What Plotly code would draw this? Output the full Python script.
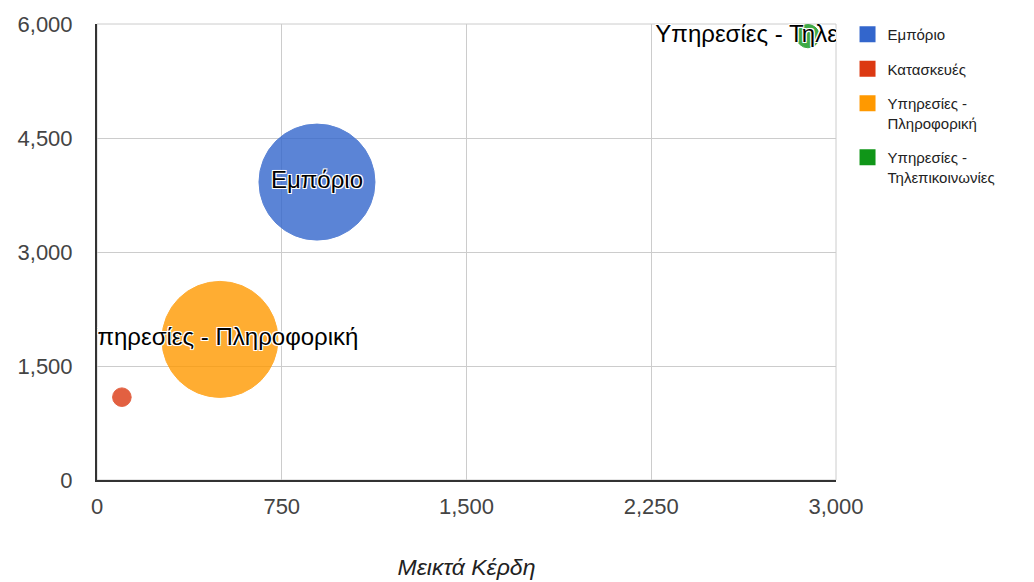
import plotly.graph_objects as go

names = ["Εμπόριο", "Κατασκευές", "Υπηρεσίες - Πληροφορική", "Υπηρεσίες - Τηλεπικοινωνίες"]
bubble_labels = ["Εμπόριο", "", "Υπηρεσίες - Πληροφορική", "Υπηρεσίες - Τηλεπικοινωνίες"]
legend_names = ["Εμπόριο", "Κατασκευές", "Υπηρεσίες -<br>Πληροφορική", "Υπηρεσίες -<br>Τηλεπικοινωνίες"]
gross_profit = [893, 101, 499, 2886]
y_values = [3920, 1090, 1850, 5840]
bubble_size = [100, 16, 100, 20]
colors = ["#3366CC", "#DC3912", "#FF9900", "#109618"]

x_ticks = [0, 750, 1500, 2250, 3000]
y_ticks = [0, 1500, 3000, 4500, 6000]

FONT = "Liberation Sans, Arial, sans-serif"
halo = "-1px -1px 0 #fff, 1px -1px 0 #fff, -1px 1px 0 #fff, 1px 1px 0 #fff, 0 0 2px #fff"

fig = go.Figure()
for i in range(len(names)):
    fig.add_trace(go.Scatter(
        x=[gross_profit[i]], y=[y_values[i]],
        mode="markers+text",
        text=[bubble_labels[i]],
        textposition="middle center",
        textfont=dict(family=FONT, size=24, color="#000", shadow=halo),
        marker=dict(size=[bubble_size[i]], sizemode="diameter", sizeref=100 / 116,
                    color=colors[i], opacity=0.8,
                    line=dict(color=colors[i], width=1)),
        showlegend=False, hoverinfo="skip", cliponaxis=True,
    ))

for i in range(len(names)):
    fig.add_trace(go.Scatter(
        x=[None], y=[None], mode="markers", name=legend_names[i],
        legendgroup=f"g{i}",
        marker=dict(symbol="square", size=16, color=colors[i]),
        showlegend=True,
    ))

fig.update_layout(
    width=1034, height=582,
    margin=dict(l=89, r=206, t=16, b=110, autoexpand=False),
    paper_bgcolor="white", plot_bgcolor="white",
    font=dict(family=FONT, color="#444"),
    legend=dict(x=1.0156, y=1.013, xanchor="left", yanchor="top",
                font=dict(size=15, color="#222"), valign="top",
                itemsizing="trace", tracegroupgap=12, bgcolor="rgba(0,0,0,0)"),
    xaxis=dict(range=[0, 3000], tickvals=x_ticks, tickformat=",",
               showgrid=True, gridcolor="#cccccc", gridwidth=1,
               zeroline=False, showline=True, linecolor="#333", linewidth=2,
               mirror=False, ticks="", tickfont=dict(size=22, color="#444"),
               ticklabelstandoff=6,
               title=dict(text="Μεικτά Κέρδη", font=dict(size=23, color="#222", style="italic"), standoff=40)),
    yaxis=dict(range=[0, 6000], tickvals=y_ticks, tickformat=",",
               showgrid=True, gridcolor="#cccccc", gridwidth=1,
               zeroline=False, showline=True, linecolor="#333", linewidth=2,
               ticks="", tickfont=dict(size=22, color="#444"), ticklabelstandoff=18),
    shapes=[dict(type="rect", xref="paper", yref="paper", x0=0, x1=1, y0=0, y1=1,
                 line=dict(color="#cccccc", width=1), layer="below")],
)

fig.write_html("out.html")
